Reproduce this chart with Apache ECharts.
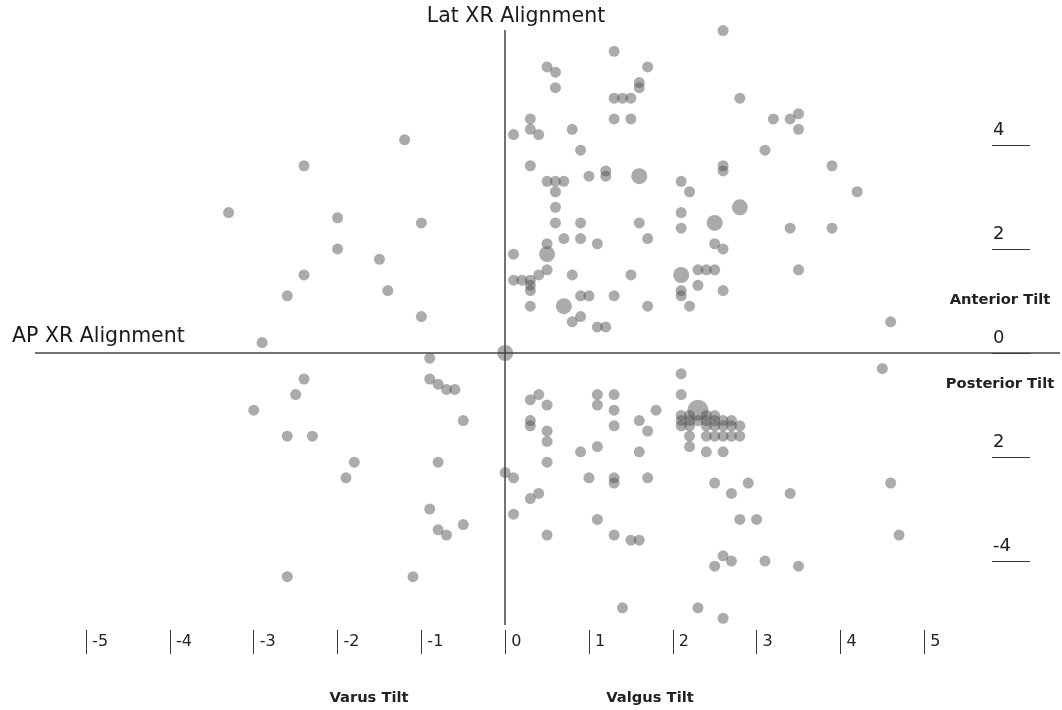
<!DOCTYPE html>
<html>
<head>
<meta charset="utf-8">
<script src="https://cdn.jsdelivr.net/npm/echarts@6/dist/echarts.min.js"></script>
<style>html,body{margin:0;padding:0;background:#fff}#c{width:1062px;height:710px}</style>
</head>
<body>
<div id="c"></div>
<script>
// ---- data ----
const xTickValues = [-5,-4,-3,-2,-1,0,1,2,3,4,5];
const yTickValues = [4,2,0,-2,-4];
const yTickLabels = ['4','2','0','2','-4'];

const ptX = [
-3.3,-2.4,-1.2,-2.0,-1.0,-2.0,-1.5,-2.4,-1.4,-2.6,-1.0,-2.9,
-0.9,-0.9,-0.8,-0.7,-0.6,-2.4,-2.5,-3.0,-0.5,-2.6,-2.3,-1.8,-1.9,-0.8,-0.9,-0.8,-0.7,-0.5,-2.6,-1.1,
1.3,0.5,0.6,1.7,0.6,1.6,1.6,1.3,1.4,1.5,1.3,1.5,0.3,0.1,0.3,0.4,0.8,0.9,0.3,0.5,0.6,0.7,0.6,0.6,
1.0,1.2,1.2,2.1,2.2,2.1,2.6,2.8,3.2,3.4,3.5,3.5,3.1,2.6,2.6,3.9,4.2,0.6,0.9,1.6,2.1,0.5,0.7,0.9,
1.1,1.7,0.1,0.1,0.2,0.3,0.4,0.5,0.3,0.3,0.8,1.5,2.3,2.4,2.5,2.3,2.1,2.1,2.2,0.3,0.9,1.0,1.3,1.7,
0.9,0.8,1.1,1.2,3.4,3.9,2.5,2.6,2.6,3.5,4.6,
0.3,0.4,0.5,0.3,0.3,0.5,0.5,0.5,1.1,1.3,1.1,1.3,1.3,1.6,1.7,1.8,0.9,1.1,1.6,0.0,0.1,1.0,1.3,1.3,
1.7,0.3,0.4,0.1,1.1,0.5,1.3,1.5,1.6,1.4,2.3,2.6,2.1,2.1,
2.1,2.2,2.4,2.5,
2.1,2.2,2.3,2.4,2.5,2.6,2.7,
2.1,2.2,2.4,2.5,2.6,2.7,2.8,
2.2,2.4,2.5,2.6,2.7,2.8,
2.2,2.4,2.6,2.5,2.9,2.7,3.4,4.6,2.8,3.0,4.7,2.6,2.5,2.7,3.1,3.5,4.5
];
const ptY = [
2.7,3.6,4.1,2.6,2.5,2.0,1.8,1.5,1.2,1.1,0.7,0.2,
-0.1,-0.5,-0.6,-0.7,-0.7,-0.5,-0.8,-1.1,-1.3,-1.6,-1.6,-2.1,-2.4,-2.1,-3.0,-3.4,-3.5,-3.3,-4.3,-4.3,
5.8,5.5,5.4,5.5,5.1,5.2,5.1,4.9,4.9,4.9,4.5,4.5,4.5,4.2,4.3,4.2,4.3,3.9,3.6,3.3,3.3,3.3,3.1,2.8,
3.4,3.5,3.4,3.3,3.1,2.7,6.2,4.9,4.5,4.5,4.6,4.3,3.9,3.6,3.5,3.6,3.1,2.5,2.5,2.5,2.4,2.1,2.2,2.2,
2.1,2.2,1.9,1.4,1.4,1.4,1.5,1.6,1.3,1.2,1.5,1.5,1.6,1.6,1.6,1.3,1.2,1.1,0.9,0.9,1.1,1.1,1.1,0.9,
0.7,0.6,0.5,0.5,2.4,2.4,2.1,2.0,1.2,1.6,0.6,
-0.9,-0.8,-1.0,-1.3,-1.4,-1.5,-1.7,-2.1,-0.8,-0.8,-1.0,-1.1,-1.4,-1.3,-1.5,-1.1,-1.9,-1.8,-1.9,-2.3,-2.4,-2.4,-2.4,-2.5,
-2.4,-2.8,-2.7,-3.1,-3.2,-3.5,-3.5,-3.6,-3.6,-4.9,-4.9,-5.1,-0.4,-0.8,
-1.2,-1.2,-1.2,-1.2,
-1.3,-1.3,-1.3,-1.3,-1.3,-1.3,-1.3,
-1.4,-1.4,-1.4,-1.4,-1.4,-1.4,-1.4,
-1.6,-1.6,-1.6,-1.6,-1.6,-1.6,
-1.8,-1.9,-1.9,-2.5,-2.5,-2.7,-2.7,-2.5,-3.2,-3.2,-3.5,-3.9,-4.1,-4.0,-4.0,-4.1,-0.3
];
// points representing several coincident cases
const multiX = [1.6, 2.8, 2.5, 0.5, 2.1, 0.7, 0.0, 2.3];
const multiY = [3.4, 2.8, 2.5, 1.9, 1.5, 0.9, 0.0, -1.1];
const multiCount = [2, 2, 2, 2, 2, 2, 2, 3];

// ---- chart ----
const points = ptX.map((x, i) => [x, ptY[i], 1]);
multiX.forEach((x, i) => points.push([x, multiY[i], multiCount[i]]));

const FONT = 'DejaVu Sans';
const chart = echarts.init(document.getElementById('c'), null, {renderer: 'canvas'});
chart.setOption({
  animation: false,
  backgroundColor: '#fff',
  grid: {left: 35, right: 2, top: 30, bottom: 85},
  xAxis: {
    type: 'value', min: -5.61, max: 6.62, offset: 5,
    splitLine: {show: false},
    axisLine: {show: false, onZero: false},
    axisTick: {show: true, customValues: xTickValues, length: 24, lineStyle: {color: '#333', width: 1}},
    axisLabel: {
      customValues: xTickValues, align: 'left', margin: 4, padding: [0, 0, 0, 6],
      fontFamily: FONT, fontSize: 16, color: '#222'
    }
  },
  yAxis: {
    type: 'value', min: -5.23, max: 6.21, position: 'right', offset: -30,
    splitLine: {show: false},
    axisLine: {show: false, onZero: false},
    axisTick: {show: true, inside: true, customValues: yTickValues, length: 38, lineStyle: {color: '#333', width: 1}},
    axisLabel: {
      customValues: yTickValues, inside: true, align: 'left', margin: 37, verticalAlign: 'bottom',
      padding: [0, 0, 6, 0],
      fontFamily: FONT, fontSize: 18, color: '#222',
      formatter: v => yTickLabels[yTickValues.indexOf(v)]
    }
  },
  graphic: [
    {type: 'text', x: 516, y: 17, style: {text: 'Lat XR Alignment', fontFamily: FONT, fontSize: 20.5, fill: '#1a1a1a', align: 'center', verticalAlign: 'middle'}},
    {type: 'text', x: 12, y: 337, style: {text: 'AP XR Alignment', fontFamily: FONT, fontSize: 20.5, fill: '#1a1a1a', align: 'left', verticalAlign: 'middle'}},
    {type: 'text', x: 1000, y: 300, style: {text: 'Anterior Tilt', fontFamily: FONT, fontSize: 14.7, fontWeight: 'bold', fill: '#222', align: 'center', verticalAlign: 'middle'}},
    {type: 'text', x: 1000, y: 384, style: {text: 'Posterior Tilt', fontFamily: FONT, fontSize: 14.7, fontWeight: 'bold', fill: '#222', align: 'center', verticalAlign: 'middle'}},
    {type: 'text', x: 369, y: 698, style: {text: 'Varus Tilt', fontFamily: FONT, fontSize: 14.7, fontWeight: 'bold', fill: '#222', align: 'center', verticalAlign: 'middle'}},
    {type: 'text', x: 650, y: 698, style: {text: 'Valgus Tilt', fontFamily: FONT, fontSize: 14.7, fontWeight: 'bold', fill: '#222', align: 'center', verticalAlign: 'middle'}}
  ],
  series: [{
    type: 'scatter',
    data: points,
    symbolSize: d => 6 + 5 * d[2],
    itemStyle: {color: 'rgba(80,80,80,0.6)'},
    markLine: {
      silent: true, symbol: 'none', animation: false,
      label: {show: false},
      lineStyle: {color: '#444', width: 1.5, type: 'solid'},
      data: [{xAxis: 0}, {yAxis: 0}]
    },
    z: 3
  }]
});
</script>
</body>
</html>
